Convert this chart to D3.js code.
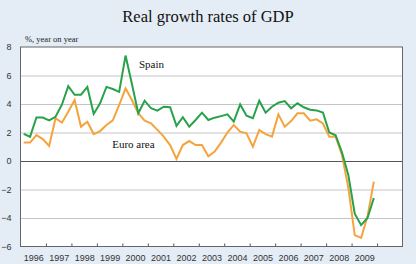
<!DOCTYPE html>
<html><head><meta charset="utf-8">
<script src="https://cdn.jsdelivr.net/npm/d3@7/dist/d3.min.js"></script>
<style>html,body{margin:0;padding:0;background:#e4ecf6;}svg{display:block;}</style>
</head><body><div id="chart"></div>
<script>
// ---- data ----
const title = "Real growth rates of GDP";
const unitLabel = "%, year on year";
const startYear = 1996;
const yearTicks = [1996,1997,1998,1999,2000,2001,2002,2003,2004,2005,2006,2007,2008,2009];
const yTicks = [-6,-4,-2,0,2,4,6,8];
const seriesNames = ["Spain","Euro area"];
// quarterly, 1996Q1 .. 2009Q4
const spain = [1.9,1.7,3.05,3.05,2.85,3.1,3.95,5.25,4.65,4.65,5.2,3.3,4.05,5.2,5.05,4.85,
  7.4,5.4,3.35,4.23,3.7,3.53,3.81,3.77,2.46,3.07,2.41,2.88,3.39,2.88,3.04,3.15,
  3.27,2.76,3.97,3.18,3.0,4.23,3.39,3.81,4.09,4.2,3.7,4.05,3.77,3.6,3.55,3.4,
  2.0,1.8,0.6,-1.0,-3.7,-4.5,-4.0,-2.6];
const euroArea = [1.29,1.29,1.82,1.54,1.05,3.0,2.69,3.46,4.28,2.41,2.76,1.89,2.1,2.53,2.85,3.93,
  5.1,4.28,3.35,2.83,2.65,2.18,1.71,1.12,0.15,1.12,1.4,1.12,1.12,0.33,0.66,1.29,
  2.0,2.53,2.06,1.94,1.0,2.18,1.89,1.71,3.27,2.41,2.8,3.35,3.35,2.83,2.92,2.63,
  1.71,1.71,0.4,-1.9,-5.2,-5.4,-3.9,-1.45];
const quarters = spain.map((_, i) => `${startYear + Math.floor(i/4)}Q${i%4+1}`);

// ---- layout ----
const W = 416, H = 264;
const m = {left: 20.5, right: 13.5, top: 47, bottom: 17.5};
const svg = d3.select("#chart").append("svg").attr("width", W).attr("height", H);
svg.append("rect").attr("width", W).attr("height", H).attr("fill", "#e4ecf6");

const x = d3.scaleLinear().domain([1996, 2011]).range([m.left, W - m.right]);
const y = d3.scaleLinear().domain([-6, 8]).range([H - m.bottom, m.top]);
const qx = q => { const yr = +q.slice(0,4), qn = +q.slice(5); return yr + (qn - 0.5)/4; };

svg.append("text").attr("x", W/2).attr("y", 22).attr("text-anchor", "middle")
  .attr("font-family", "Liberation Serif, Times New Roman, serif").attr("font-size", 16.5)
  .attr("fill", "#111").text(title);

// plot background
svg.append("rect").attr("x", m.left).attr("y", m.top)
  .attr("width", x.range()[1] - m.left).attr("height", y.range()[0] - m.top).attr("fill", "#fff");

// grid
const grid = svg.append("g").attr("transform", `translate(${m.left},0)`)
  .call(d3.axisLeft(y).tickValues(yTicks.filter(v => v !== 0 && v !== 8 && v !== -6))
    .tickSize(-(x.range()[1] - m.left)).tickFormat(""));
grid.select(".domain").remove();
grid.selectAll("line").attr("stroke", "#c4c4c4").attr("stroke-width", 1);

const zero = svg.append("g").attr("transform", `translate(${m.left},0)`)
  .call(d3.axisLeft(y).tickValues([0]).tickSize(-(x.range()[1] - m.left)).tickFormat(""));
zero.select(".domain").remove();
zero.selectAll("line").attr("stroke", "#555").attr("stroke-width", 1);

// y labels
const yl = svg.append("g").attr("transform", `translate(${m.left - 6},0)`)
  .call(d3.axisLeft(y).tickValues(yTicks).tickSize(0).tickFormat(d3.format("d")));
yl.select(".domain").remove();
yl.selectAll("text").attr("font-family", "Liberation Sans, Arial, sans-serif")
  .attr("font-size", 9).attr("fill", "#333").attr("dx", 0);

// x ticks (inside)
const xt = svg.append("g").attr("transform", `translate(0,${y.range()[0]})`)
  .call(d3.axisBottom(x).tickValues(yearTicks.slice(1).concat([2010])).tickSize(-3).tickFormat(""));
xt.select(".domain").remove();
xt.selectAll("line").attr("stroke", "#555");

// x labels centered in year bands
const xl = svg.append("g").attr("transform", `translate(0,${y.range()[0] + 5})`)
  .call(d3.axisBottom(x).tickValues(yearTicks.map(d => d + 0.5)).tickSize(0)
    .tickFormat(d => String(Math.floor(d))));
xl.select(".domain").remove();
xl.selectAll("text").attr("font-family", "Liberation Sans, Arial, sans-serif")
  .attr("font-size", 9).attr("fill", "#333");

// border
svg.append("rect").attr("x", m.left).attr("y", m.top)
  .attr("width", x.range()[1] - m.left).attr("height", y.range()[0] - m.top)
  .attr("fill", "none").attr("stroke", "#666").attr("stroke-width", 1);

// lines
const line = d3.line().x((d, i) => x(qx(quarters[i]))).y(d => y(d));
svg.append("path").datum(euroArea).attr("d", line).attr("fill", "none")
  .attr("stroke", "#f5a33c").attr("stroke-width", 2).attr("stroke-linejoin", "miter");
svg.append("path").datum(spain).attr("d", line).attr("fill", "none")
  .attr("stroke", "#27a24a").attr("stroke-width", 2).attr("stroke-linejoin", "miter");

// labels
const serif = "Liberation Serif, Times New Roman, serif";
svg.append("text").attr("x", x(2000.65)).attr("y", y(6.5)).attr("font-family", serif)
  .attr("font-size", 11).attr("fill", "#111").text(seriesNames[0]);
svg.append("text").attr("x", x(1999.6)).attr("y", y(0.9)).attr("font-family", serif)
  .attr("font-size", 11).attr("fill", "#111").text(seriesNames[1]);
svg.append("text").attr("x", 25).attr("y", 42).attr("font-family", serif)
  .attr("font-size", 8.5).attr("fill", "#222").text(unitLabel);
</script></body></html>
